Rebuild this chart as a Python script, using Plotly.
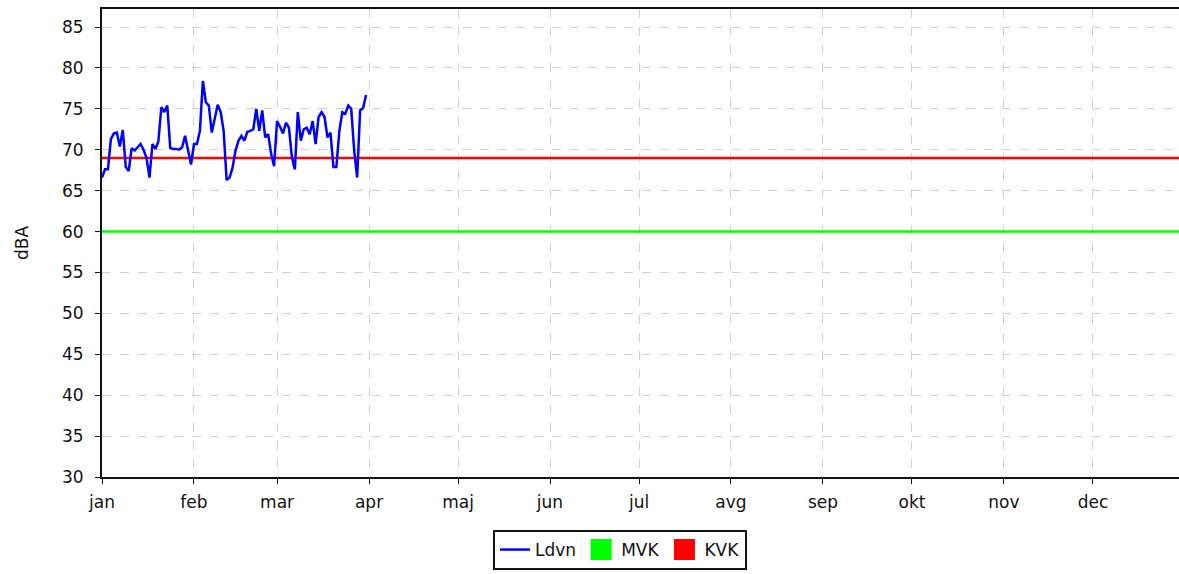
import pandas as pd
import plotly.graph_objects as go

# Daily Ldvn values, 1 Jan .. 31 Mar
start_date = "2023-01-01"
ldvn = [66.6, 67.6, 67.6, 71.3, 72.0, 72.1, 70.4, 72.4, 67.9, 67.4,
        70.2, 69.9, 70.3, 70.7, 70.0, 69.0, 66.6, 70.7, 70.1, 71.0,
        75.2, 74.6, 75.4, 70.2, 70.1, 70.1, 70.0, 70.3, 71.7, 69.9,
        68.2, 70.7, 70.7, 72.3, 78.4, 75.8, 75.4, 72.1, 73.8, 75.5,
        74.6, 72.3, 66.3, 66.6, 67.8, 69.9, 71.1, 71.7, 71.1, 72.2,
        72.3, 72.5, 75.0, 72.3, 74.8, 71.5, 71.9, 69.5, 68.0, 73.5,
        72.8, 72.0, 73.3, 72.7, 69.1, 67.6, 74.6, 71.1, 72.5, 72.7,
        71.9, 73.5, 70.7, 74.0, 74.6, 74.0, 71.5, 72.1, 67.9, 67.9,
        72.3, 74.6, 74.4, 75.4, 75.0, 69.9, 66.6, 74.8, 75.1, 76.7]
mvk = 60
kvk = 69
month_labels = ["jan", "feb", "mar", "apr", "maj", "jun",
                "jul", "avg", "sep", "okt", "nov", "dec"]
y_ticks = list(range(30, 90, 5))

dates = pd.date_range(start_date, periods=len(ldvn), freq="D")
month_starts = pd.date_range(start_date, periods=12, freq="MS")
year_span = [pd.Timestamp("2023-01-01"), pd.Timestamp("2024-01-01")]

fig = go.Figure()
fig.add_trace(go.Scatter(x=year_span, y=[mvk, mvk], mode="lines",
                         line=dict(color="#00ff00", width=2.5), showlegend=False,
                         hoverinfo="skip"))
fig.add_trace(go.Scatter(x=year_span, y=[kvk, kvk], mode="lines",
                         line=dict(color="#ff0000", width=2.5), showlegend=False,
                         hoverinfo="skip"))
fig.add_trace(go.Scatter(x=dates, y=ldvn, mode="lines", name="Ldvn",
                         line=dict(color="#0000ff", width=2.5)))
fig.add_trace(go.Scatter(x=[None], y=[None], mode="markers", name="MVK",
                         marker=dict(symbol="square", size=16, color="#00ff00",
                                     line=dict(color="#00ff00", width=5))))
fig.add_trace(go.Scatter(x=[None], y=[None], mode="markers", name="KVK",
                         marker=dict(symbol="square", size=16, color="#ff0000",
                                     line=dict(color="#ff0000", width=5))))

font = dict(family="DejaVu Sans", size=17, color="#111111")
plot_w = 1077
plot_h = 468
fig.update_layout(
    width=1179, height=574,
    margin=dict(l=102, r=0, t=9, b=97),
    plot_bgcolor="white", paper_bgcolor="white",
    font=font,
    showlegend=True,
    legend=dict(orientation="h", x=0.481, xanchor="center", y=-53 / plot_h, yanchor="top",
                bordercolor="#111111", borderwidth=2, bgcolor="white",
                font=font, itemwidth=30),
    xaxis=dict(type="date",
               range=[pd.Timestamp("2023-01-01"), pd.Timestamp("2023-12-30")],
               tickvals=month_starts, ticktext=month_labels,
               showline=True, linecolor="#111111", linewidth=2, mirror=True,
               ticks="outside", ticklen=5, tickcolor="#111111",
               ticklabelstandoff=4,
               showgrid=True, gridcolor="#d0d0d0", griddash="dash", gridwidth=1,
               zeroline=False),
    yaxis=dict(range=[30, 87.2], tickvals=y_ticks,
               showline=True, linecolor="#111111", linewidth=2,
               ticks="outside", ticklen=5, tickcolor="#111111",
               ticklabelstandoff=8,
               showgrid=True, gridcolor="#d0d0d0", griddash="dash", gridwidth=1,
               zeroline=False),
    annotations=[dict(text="dBA", xref="paper", yref="paper",
                      x=-80 / plot_w, xanchor="center", y=0.5, yanchor="middle",
                      textangle=-90, showarrow=False, font=font)],
)

fig.write_html(
    "out.html",
    config={"displayModeBar": False},
    post_script="document.body.style.margin='0';document.body.style.overflow='hidden';",
)
